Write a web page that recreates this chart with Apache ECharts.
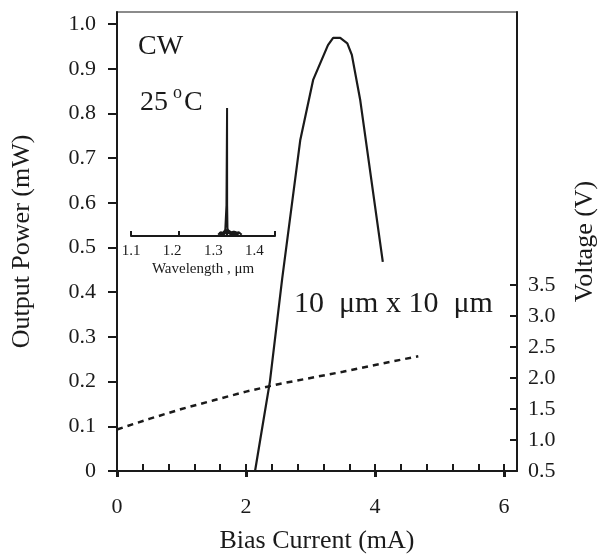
<!DOCTYPE html>
<html>
<head>
<meta charset="utf-8">
<script src="https://cdn.jsdelivr.net/npm/echarts@6/dist/echarts.min.js"></script>
<style>
  html, body { margin: 0; padding: 0; background: #fff; }
  #chart { width: 604px; height: 557px; }
</style>
</head>
<body>
<div id="chart"></div>
<script>
// output power vs bias current (solid)
const powerCurrent = [2.14, 2.22, 2.37, 2.56, 2.84, 3.04, 3.27, 3.35, 3.46, 3.57, 3.64, 3.77, 4.12];
const powerValues  = [0, 0.07, 0.20, 0.43, 0.74, 0.875, 0.953, 0.969, 0.969, 0.957, 0.931, 0.83, 0.468];

// voltage vs bias current (dashed)
const voltCurrent = [0, 0.5, 1.0, 1.5, 2.0, 2.5, 3.0, 3.5, 4.0, 4.67];
const voltValues  = [1.17, 1.34, 1.50, 1.64, 1.78, 1.90, 2.00, 2.10, 2.21, 2.35];

// inset spectrum
const specWavelength = [1.312, 1.318, 1.324, 1.329, 1.332, 1.3335, 1.3337, 1.3345, 1.337, 1.343, 1.349, 1.355, 1.362, 1.369];
const specIntensity  = [0.01, 0.03, 0.015, 0.04, 0.24, 1.0, 0.24, 0.06, 0.03, 0.02, 0.035, 0.02, 0.03, 0.01];
// low-level side-mode cluster at the base of the peak
const baseWavelength = [1.315, 1.325, 1.331, 1.336, 1.343, 1.352, 1.362];
const baseIntensity  = [0.012, 0.02, 0.04, 0.035, 0.02, 0.025, 0.012];

// ticks / labels
const currentTicks  = [0, 0.4, 0.8, 1.2, 1.6, 2.0, 2.4, 2.8, 3.2, 3.6, 4.0, 4.4, 4.8, 5.2, 5.6, 6.0];
const currentLabels = [0, 2, 4, 6];
const powerTicks    = [0, 0.1, 0.2, 0.3, 0.4, 0.5, 0.6, 0.7, 0.8, 0.9, 1.0];
const voltTicks     = [0.5, 1.0, 1.5, 2.0, 2.5, 3.0, 3.5];
const wlTicks       = [1.1, 1.21667, 1.33333, 1.45];
const wlLabels      = [1.1, 1.2, 1.3, 1.4];

const FONT = '"Liberation Serif", "DejaVu Serif", serif';
const INK = '#1a1a1a';

let myChart = echarts.init(document.getElementById('chart'), null, { renderer: 'canvas' });

const zip = (a, b) => a.map((v, i) => [v, b[i]]);

myChart.setOption({
  animation: false,
  textStyle: { fontFamily: FONT, color: INK },
  grid: [
    // main plot
    { left: 117, right: 87, top: 12, bottom: 86, outerBoundsMode: 'none', containLabel: false,
      show: true, borderColor: '#666', borderWidth: 1.5 },
    // inset spectrum
    { left: 131, width: 144, top: 108, height: 128, outerBoundsMode: 'none', containLabel: false }
  ],
  xAxis: [
    {
      gridIndex: 0, type: 'value', min: 0, max: 6.2,
      name: 'Bias Current (mA)', nameLocation: 'middle', nameGap: 57,
      nameTextStyle: { fontFamily: FONT, fontSize: 26, color: INK },
      axisLine: { show: true, onZero: false, lineStyle: { color: INK, width: 2 } },
      axisTick: { show: true, inside: true, length: 7, customValues: currentTicks, lineStyle: { color: INK, width: 2 } },
      axisLabel: { customValues: currentLabels, fontFamily: FONT, fontSize: 22, color: INK, margin: 25 },
      splitLine: { show: false }
    },
    {
      // major ticks crossing below the axis line
      gridIndex: 0, type: 'value', min: 0, max: 6.2, position: 'bottom',
      axisLine: { show: false },
      axisTick: { show: true, inside: false, length: 6, customValues: currentLabels, lineStyle: { color: INK, width: 3 } },
      axisLabel: { show: false },
      splitLine: { show: false }
    },
    {
      gridIndex: 1, type: 'value', min: 1.1, max: 1.45,
      name: 'Wavelength , \u03bcm', nameLocation: 'middle', nameGap: 26,
      nameTextStyle: { fontFamily: FONT, fontSize: 15, color: INK },
      axisLine: { show: true, onZero: false, lineStyle: { color: INK, width: 2 } },
      axisTick: { show: true, inside: true, length: 5, customValues: wlTicks, lineStyle: { color: INK, width: 2 } },
      axisLabel: { customValues: wlLabels, formatter: v => v.toFixed(1), fontFamily: FONT, fontSize: 15, color: INK, margin: 8 },
      splitLine: { show: false }
    }
  ],
  yAxis: [
    {
      gridIndex: 0, type: 'value', min: 0, max: 1.027,
      name: 'Output Power (mW)', nameLocation: 'middle', nameGap: 82,
      nameTextStyle: { fontFamily: FONT, fontSize: 26, color: INK },
      axisLine: { show: true, onZero: false, lineStyle: { color: INK, width: 2 } },
      axisTick: { show: true, inside: false, length: 9, customValues: powerTicks, lineStyle: { color: INK, width: 2 } },
      axisLabel: { customValues: powerTicks, formatter: v => (v === 0 ? '0' : v.toFixed(1)),
                   fontFamily: FONT, fontSize: 22, color: INK, margin: 21 },
      splitLine: { show: false }
    },
    {
      gridIndex: 0, type: 'value', min: 0.5, max: 7.9, position: 'right',
      name: 'Voltage (V)', nameLocation: 'middle', nameGap: 55,
      nameTextStyle: { fontFamily: FONT, fontSize: 26, color: INK },
      axisLine: { show: true, onZero: false, lineStyle: { color: INK, width: 2 } },
      axisTick: { show: true, inside: true, length: 7, customValues: voltTicks, lineStyle: { color: INK, width: 2 } },
      axisLabel: { customValues: voltTicks, formatter: v => v.toFixed(1),
                   fontFamily: FONT, fontSize: 22, color: INK, margin: 11 },
      splitLine: { show: false }
    },
    {
      gridIndex: 1, type: 'value', min: 0, max: 1, show: false
    }
  ],
  graphic: [
    { type: 'text', left: 138, top: 33, style: { text: 'CW', font: '28px ' + FONT, fill: INK } },
    // 25 °C with a raised "o"
    { type: 'text', left: 140, top: 89, style: { text: '25', font: '28px ' + FONT, fill: INK } },
    { type: 'text', left: 173, top: 84, style: { text: 'o', font: '18px ' + FONT, fill: INK } },
    { type: 'text', left: 184, top: 89, style: { text: 'C', font: '28px ' + FONT, fill: INK } },
    { type: 'text', left: 294, top: 289, style: { text: '10  \u03bcm x 10  \u03bcm', font: '30px ' + FONT, fill: INK } }
  ],
  series: [
    {
      name: 'power', type: 'line', xAxisIndex: 0, yAxisIndex: 0,
      data: zip(powerCurrent, powerValues),
      symbol: 'none', lineStyle: { color: INK, width: 2.2 }
    },
    {
      name: 'voltage', type: 'line', xAxisIndex: 0, yAxisIndex: 1,
      data: zip(voltCurrent, voltValues),
      symbol: 'none', lineStyle: { color: INK, width: 2.5, type: [6, 5] }
    },
    {
      name: 'spectrum', type: 'line', xAxisIndex: 2, yAxisIndex: 2,
      data: zip(specWavelength, specIntensity),
      symbol: 'none', lineStyle: { color: INK, width: 2 }
    },
    {
      name: 'sidemodes', type: 'line', xAxisIndex: 2, yAxisIndex: 2,
      data: zip(baseWavelength, baseIntensity),
      symbol: 'none', lineStyle: { color: INK, width: 4 }
    }
  ]
});

window.addEventListener('resize', function () { myChart.resize() });
</script>
</body>
</html>
